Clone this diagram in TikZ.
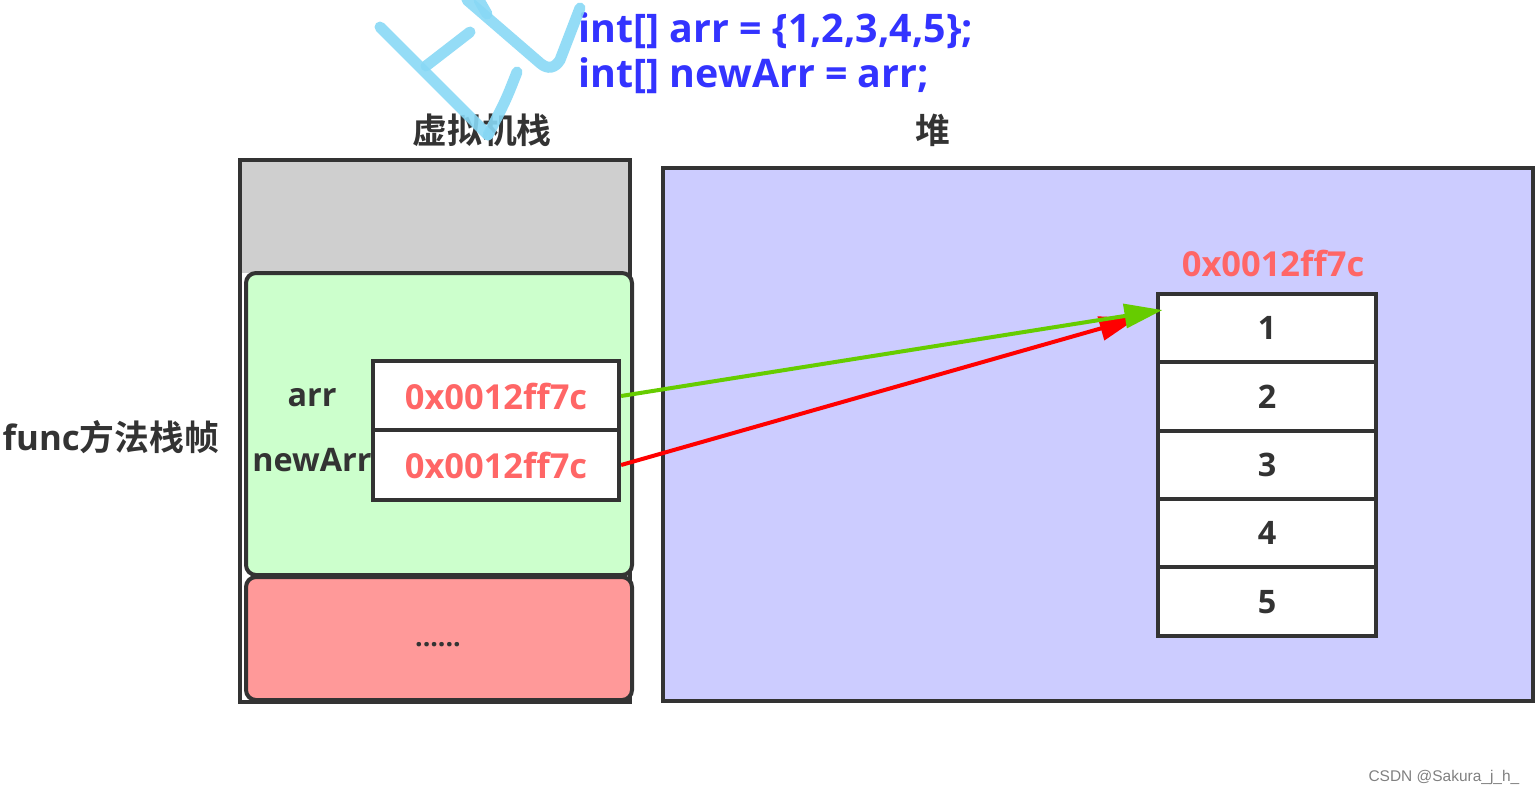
\documentclass[tikz,border=0pt]{standalone}
\usepackage{fontspec}
\setmainfont{Open Sans}
\newfontfamily\cjk{Noto Sans CJK SC}[BoldFont={Noto Sans CJK SC Bold}]
\newfontfamily\markfont{Liberation Sans}
\usetikzlibrary{positioning, arrows.meta}
\definecolor{edge}{HTML}{333333}
\definecolor{stackgray}{HTML}{CFCFCF}
\definecolor{framegreen}{HTML}{CCFFCC}
\definecolor{framered}{HTML}{FF9999}
\definecolor{heapblue}{HTML}{CCCCFF}
\definecolor{addrred}{HTML}{FF6666}
\definecolor{codeblue}{HTML}{3333FF}
\definecolor{refgreen}{HTML}{66CC00}
\definecolor{scribble}{HTML}{88D8F5}

\begin{document}
\begin{tikzpicture}[x=0.01cm, y=-0.01cm,
        border/.style={draw=edge, line width=0.04cm},
        label/.style={text=edge, inner sep=0pt, font=\bfseries\fontsize{9.2pt}{12pt}\selectfont},
        title/.style={text=edge, inner sep=0pt, font=\cjk\bfseries\fontsize{9.9pt}{12pt}\selectfont},
        addr/.style={text=addrred, inner sep=0pt, font=\bfseries\fontsize{9.8pt}{12pt}\selectfont},
        code/.style={text=codeblue, inner sep=0pt, anchor=base west, font=\bfseries\fontsize{11.2pt}{12pt}\selectfont},
        varcell/.style={border, fill=white, minimum width=2.46cm, minimum height=0.69cm, inner sep=0pt},
        heapcell/.style={border, fill=white, minimum width=2.17cm, minimum height=0.684cm, inner sep=0pt,
            text=edge, font=\bfseries\fontsize{9.2pt}{12pt}\selectfont},
        ref/.style={line width=0.04cm, -{Triangle[length=0.38cm, width=0.24cm]}},
        pen/.style={scribble, line width=0.11cm, line cap=round, opacity=0.9}]
    \useasboundingbox (0,0) rectangle (1536,796);
    % stack
    \fill[stackgray] (240,160) rectangle (630,273);
    \draw[border] (240,160) rectangle (630,702);
    \draw[border, fill=framegreen, rounded corners=0.1cm] (246,273) rectangle (632,575);
    \draw[border, fill=framered, rounded corners=0.1cm] (246,577) rectangle (632,700);
    % heap
    \draw[border, fill=heapblue] (663,168) rectangle (1533,701);
    \node[title] (vmstack) at (482,130) {虚拟机栈};
    \node[title] (heapname) at (933,130) {堆};
    \node[title, anchor=west] (framename) at (2,437) {{\normalfont\bfseries\fontsize{9.9pt}{12pt}\selectfont func}方法栈帧};
    \node[varcell] (arrcell) at (496,396) {};
    \node[varcell] (newarrcell) at (496,465) {};
    \node[addr] (arraddr) at (arrcell) {0x0012ff7c};
    \node[addr] (newarraddr) at (newarrcell) {0x0012ff7c};
    \node[label] (arrname) at (312,398) {arr};
    \node[label] (newarrname) at (312,460) {newArr};
    \node[text=edge, inner sep=0pt, font=\bfseries\fontsize{7.6pt}{8pt}\selectfont] (more) at (438,645) {......};
    \foreach \i in {1,...,5}
        \node[heapcell] (h\i) at (1267,{259.6+68.4*\i}) {\i};
    \node[addr, above=0.14cm of h1, xshift=0.06cm] (heapaddr) {0x0012ff7c};
    \node[code] (line1) at (578,42) {int[] arr = \{1,2,3,4,5\};};
    \node[code] (line2) at (578,87) {int[] newArr = arr;};
    \coordinate (redtip) at ([shift={(-19,-10)}]h1.west);
    \coordinate (greentip) at ([shift={(6,-18)}]h1.west);
    \draw[ref, red] (newarrcell.east) -- (redtip);
    \draw[ref, refgreen] (arrcell.east) -- (greentip);
    % scribble
    \draw[pen] (380,27) -- (488,135);
    \draw[pen] (517,72) .. controls (506,100) .. (488,135);
    \draw[pen] (470,32) -- (426,66);
    \draw[pen] (467,0) -- (540,63) .. controls (548,70) and (555,68) .. (560,60) -- (580,8);
    \draw[pen] (479,0) -- (487,14);
    \node[text=gray, inner sep=0pt, anchor=east, font=\markfont\fontsize{4.4pt}{5pt}\selectfont] (mark) at (1520,777) {CSDN @Sakura\_j\_h\_};
\end{tikzpicture}
\end{document}
